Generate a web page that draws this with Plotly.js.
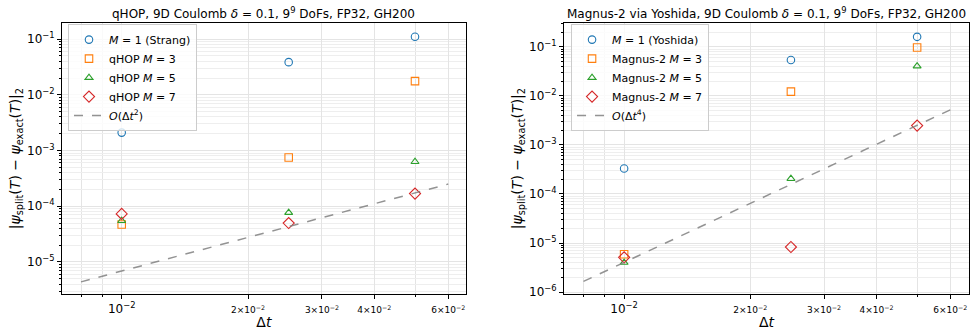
<!DOCTYPE html>
<html><head><meta charset="utf-8">
<script src="https://cdn.plot.ly/plotly-3.0.1.min.js"></script>
<style>html,body{margin:0;padding:0;background:#fff}</style>
</head><body><div id="chart" style="width:970px;height:330px"></div>
<script>
// Time steps
const dt = [0.01, 0.025, 0.05];
const refDt = [0.008, 0.06];

// qHOP panel: L2 error at final time
const qhopM1 = [2.1e-3, 0.0386, 0.11];
const qhopM3 = [4.7e-5, 7.5e-4, 0.0176];
const qhopM5 = [5.5e-5, 7.7e-5, 6.3e-4];
const qhopM7 = [7.3e-5, 5.0e-5, 1.69e-4];
const qhopRef = [4.4e-6, 2.5e-4];

// Magnus-2 via Yoshida panel
const magM1 = [3.3e-4, 0.054, 0.16];
const magM3 = [5.9e-6, 0.0122, 0.097];
const magM5 = [4.0e-6, 2.05e-4, 0.0404];
const magM7 = [5.1e-6, 8.3e-6, 2.48e-3];
const magRef = [1.65e-6, 5.2e-3];

// Tick labels
const xTickVals = [0.01, 0.02, 0.03, 0.04, 0.06];
const xTickText = ['10<sup>−2</sup>',
  '<span style="font-size:9px">2×10<sup>−2</sup></span>',
  '<span style="font-size:9px">3×10<sup>−2</sup></span>',
  '<span style="font-size:9px">4×10<sup>−2</sup></span>',
  '<span style="font-size:9px">6×10<sup>−2</sup></span>'];
const xMinorVals = [0.008, 0.009, 0.05];
const yTickVals = [1e-6, 1e-5, 1e-4, 1e-3, 1e-2, 1e-1];
const yTickText = ['10<sup>−6</sup>', '10<sup>−5</sup>', '10<sup>−4</sup>', '10<sup>−3</sup>', '10<sup>−2</sup>', '10<sup>−1</sup>'];

const colors = ['#1f77b4', '#ff7f0e', '#2ca02c', '#d62728'];
const symbols = ['circle-open', 'square-open', 'triangle-up-open', 'diamond-open'];
const sizes = [7.5, 7.5, 7, 8.5];

// minor gridlines at 2..9 x 10^k inside the plotted decades
const yMinorVals = [];
for (let e = -7; e <= 0; e++) for (let m = 2; m <= 9; m++) yMinorVals.push(m * Math.pow(10, e));

function series(x, y, i, name, xa, ya, leg) {
  return {x: x, y: y, name: name, type: 'scatter', mode: 'markers',
    xaxis: xa, yaxis: ya, legend: leg,
    marker: {symbol: symbols[i], color: colors[i], size: sizes[i], line: {width: 1.1, color: colors[i]}}};
}
function refLine(x, y, name, xa, ya, leg) {
  return {x: x, y: y, name: name, type: 'scatter', mode: 'lines',
    xaxis: xa, yaxis: ya, legend: leg,
    line: {color: 'rgba(128,128,128,0.85)', width: 1.5, dash: 'dash'}};
}

const traces = [
  series(dt, qhopM1, 0, '<i>M</i> = 1 (Strang)', 'x', 'y', 'legend'),
  series(dt, qhopM3, 1, 'qHOP <i>M</i> = 3', 'x', 'y', 'legend'),
  series(dt, qhopM5, 2, 'qHOP <i>M</i> = 5', 'x', 'y', 'legend'),
  series(dt, qhopM7, 3, 'qHOP <i>M</i> = 7', 'x', 'y', 'legend'),
  refLine(refDt, qhopRef, '<i>O</i>(Δ<i>t</i><sup>2</sup>)', 'x', 'y', 'legend'),
  series(dt, magM1, 0, '<i>M</i> = 1 (Yoshida)', 'x2', 'y2', 'legend2'),
  series(dt, magM3, 1, 'Magnus-2 <i>M</i> = 3', 'x2', 'y2', 'legend2'),
  series(dt, magM5, 2, 'Magnus-2 <i>M</i> = 5', 'x2', 'y2', 'legend2'),
  series(dt, magM7, 3, 'Magnus-2 <i>M</i> = 7', 'x2', 'y2', 'legend2'),
  refLine(refDt, magRef, '<i>O</i>(Δ<i>t</i><sup>4</sup>)', 'x2', 'y2', 'legend2')
];

const gridCol = '#e4e4e4';
function xAxis(domain, range, anchor) {
  return {type: 'log', domain: domain, range: range, anchor: anchor,
    tickmode: 'array', tickvals: xTickVals, ticktext: xTickText,
    ticks: 'outside', ticklen: 4, tickcolor: '#000', tickfont: {size: 12, color: '#000'},
    showline: true, linecolor: '#000', linewidth: 1, mirror: true,
    showgrid: true, gridcolor: gridCol, gridwidth: 1, zeroline: false,
    minor: {tickmode: 'array', tickvals: xMinorVals, ticks: 'outside', ticklen: 2, tickcolor: '#000', showgrid: true, gridcolor: gridCol},
    title: {text: 'Δ<i>t</i>', font: {size: 14, color: '#000'}, standoff: 3},
    automargin: false};
}
function yAxis(domain, range, anchor) {
  return {type: 'log', domain: domain, range: range, anchor: anchor,
    tickmode: 'array', tickvals: yTickVals, ticktext: yTickText,
    ticks: 'outside', ticklen: 4, tickcolor: '#000', tickfont: {size: 12, color: '#000'},
    showline: true, linecolor: '#000', linewidth: 1, mirror: true,
    showgrid: true, gridcolor: gridCol, gridwidth: 1, zeroline: false,
    minor: {tickmode: 'array', tickvals: yMinorVals, ticks: 'outside', ticklen: 2, tickcolor: '#000', showgrid: true, gridcolor: '#eeeeee'},
    title: {text: '|<i>ψ</i><sub>split</sub>(<i>T</i>) − <i>ψ</i><sub>exact</sub>(<i>T</i>)|<sub>2</sub>', font: {size: 14, color: '#000'}, standoff: 3},
    automargin: false};
}
const legendStyle = {yanchor: 'top', xanchor: 'left', y: 0.927,
  bgcolor: 'rgba(255,255,255,0.8)', bordercolor: '#cccccc', borderwidth: 1,
  font: {size: 11, color: '#000'}, tracegroupgap: 0, itemwidth: 30};

const layout = {
  width: 970, height: 330,
  margin: {l: 0, r: 0, t: 0, b: 0},
  paper_bgcolor: '#fff', plot_bgcolor: '#fff',
  font: {family: 'DejaVu Sans, sans-serif', color: '#000'},
  showlegend: true,
  xaxis: xAxis([0.064, 0.480], [Math.log10(0.00721), Math.log10(0.066)], 'y'),
  yaxis: yAxis([0.109, 0.930], [-5.575, -0.713], 'x'),
  xaxis2: xAxis([0.5815, 0.999], [Math.log10(0.00719), Math.log10(0.0665)], 'y2'),
  yaxis2: yAxis([0.109, 0.930], [-6.04, -0.516], 'x2'),
  legend: Object.assign({x: 0.0701}, legendStyle),
  legend2: Object.assign({x: 0.5887}, legendStyle),
  annotations: [
    {text: 'qHOP, 9D Coulomb <i>δ</i> = 0.1, 9<sup>9</sup> DoFs, FP32, GH200', xref: 'paper', yref: 'paper',
      x: 0.272, y: 0.960, xanchor: 'center', yanchor: 'middle', showarrow: false, font: {size: 12, color: '#000'}},
    {text: 'Magnus-2 via Yoshida, 9D Coulomb <i>δ</i> = 0.1, 9<sup>9</sup> DoFs, FP32, GH200', xref: 'paper', yref: 'paper',
      x: 0.790, y: 0.960, xanchor: 'center', yanchor: 'middle', showarrow: false, font: {size: 12, color: '#000'}}
  ]
};

Plotly.newPlot('chart', traces, layout, {displayModeBar: false, staticPlot: true});
</script>
</body></html>
